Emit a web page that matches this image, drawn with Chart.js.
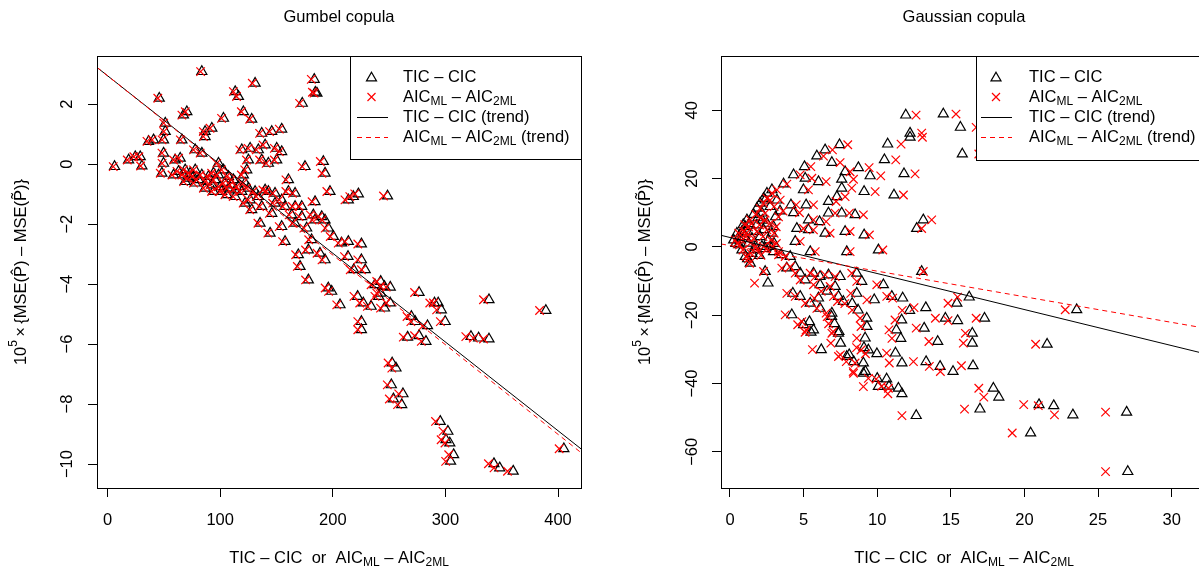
<!DOCTYPE html>
<html>
<head>
<meta charset="utf-8">
<script src="https://cdn.jsdelivr.net/npm/chart.js@4.4.1/dist/chart.umd.min.js"></script>
<style>
  html, body { margin: 0; padding: 0; overflow: hidden; background: #fff; width: 1199px; height: 573px; }
  canvas { position: absolute; top: 0; }
  #gumbel { left: 0; }
  #gauss { left: 600px; }
</style>
</head>
<body>
<canvas id="gumbel" width="600" height="573"></canvas>
<canvas id="gauss" width="640" height="573"></canvas>
<script>
// ---- data ----
const gumbelTic = [
  6.2, 18.7, 24.6, 29.0, 30.5, 36.4, 40.8, 45.9, 49.7, 49.7,
  49.7, 48.2, 51.2, 51.2, 58.6, 60.0, 64.5, 67.4, 70.4, 66.0,
  68.9, 73.3, 77.8, 77.8, 83.7, 86.6, 86.6, 92.6, 83.7, 89.6,
  94.0, 98.5, 98.5, 102.9, 102.9, 107.3, 113.3, 116.2, 120.6, 128.0,
  131.0, 123.6, 125.1, 119.2, 126.6, 133.9, 136.9, 139.9, 136.9, 145.8,
  154.6, 142.8, 150.2, 154.6, 150.2, 139.9, 148.7, 160.6, 166.5, 175.3,
  191.6, 193.1, 197.5, 213.8, 218.2, 172.4, 184.2, 193.1, 207.8, 213.8,
  182.7, 157.6, 166.5, 157.6, 169.4, 178.3, 188.6, 193.1, 170.9, 178.3,
  196.0, 199.0, 206.4, 135.4, 144.3, 128.0, 133.9, 122.1, 63.0, 67.4,
  71.9, 76.3, 80.7, 83.7, 88.1, 92.6, 95.5, 100.0, 104.4, 107.3,
  110.3, 113.3, 116.2, 119.2, 111.8, 101.4, 105.9, 94.0, 86.6, 77.8,
  68.9, 113.3, 122.1, 120.6, 125.1, 131.0, 126.6, 136.9, 142.8, 148.7,
  154.6, 160.6, 166.5, 172.4, 163.5, 154.6, 145.8, 176.8, 184.2, 190.1,
  196.0, 200.5, 181.2, 172.9, 183.5, 184.5, 185.9, 222.7, 248.6, 276.6,
  293.6, 296.4, 338.7, 389.2, 251.0, 225.4, 225.4, 228.8, 222.0, 227.1,
  237.4, 242.5, 251.0, 245.9, 234.0, 213.5, 218.6, 242.5, 245.9, 240.8,
  225.4, 225.4, 269.8, 273.2, 266.4, 276.6, 282.7, 284.1, 299.8, 290.3,
  322.7, 329.5, 338.7, 252.7, 256.1, 252.0, 262.3, 253.8, 261.2, 295.4,
  302.2, 300.5, 303.9, 307.3, 304.6, 343.1, 348.2, 360.2, 405.2
];
const gumbelAic = [
  5.0, 17.5, 23.3, 27.8, 29.3, 35.0, 39.5, 44.6, 48.4, 48.3,
  48.4, 46.8, 49.8, 49.9, 57.2, 58.6, 63.1, 66.0, 69.0, 64.6,
  67.5, 71.8, 76.3, 76.3, 82.2, 85.1, 85.0, 91.0, 82.6, 88.0,
  92.4, 96.9, 96.9, 101.2, 101.2, 105.6, 111.7, 114.5, 118.8, 126.2,
  128.5, 121.8, 123.3, 117.4, 124.8, 132.0, 135.0, 138.0, 135.0, 143.8,
  152.5, 140.8, 148.1, 152.5, 148.1, 137.9, 146.6, 158.4, 164.2, 172.8,
  188.9, 190.4, 194.7, 210.8, 215.1, 170.0, 181.6, 190.4, 204.8, 210.8,
  180.1, 155.4, 164.2, 155.4, 167.0, 175.8, 186.0, 190.4, 168.5, 175.8,
  193.2, 196.2, 203.5, 133.5, 142.3, 126.2, 132.0, 120.4, 61.6, 66.0,
  70.5, 74.8, 79.2, 82.2, 86.6, 91.0, 93.9, 98.3, 102.7, 105.6,
  108.5, 111.5, 114.4, 117.4, 110.0, 99.7, 104.2, 92.4, 85.1, 76.3,
  67.5, 111.5, 120.3, 118.8, 123.3, 129.1, 124.7, 134.9, 140.8, 146.6,
  152.4, 158.3, 164.1, 170.0, 161.2, 152.4, 143.7, 174.3, 181.6, 187.4,
  193.2, 197.7, 178.6, 170.5, 180.9, 181.9, 183.3, 219.5, 245.0, 272.6,
  289.4, 292.2, 333.8, 383.6, 247.4, 222.2, 222.2, 225.5, 218.8, 223.9,
  234.0, 239.0, 247.4, 242.4, 230.7, 210.4, 215.5, 239.0, 242.4, 237.4,
  222.2, 222.2, 265.9, 269.3, 262.6, 272.6, 278.6, 280.0, 295.5, 286.1,
  318.1, 324.8, 333.8, 249.1, 252.4, 248.4, 258.5, 250.2, 257.5, 291.2,
  297.9, 296.2, 299.6, 302.9, 300.2, 338.2, 343.2, 355.1, 401.0
];
const gumbelY = [
  -0.08, 0.14, 0.25, 0.25, -0.06, 0.76, 0.81, 2.2, 0.81, 0.37,
  0.03, -0.3, 1.37, 1.09, -0.36, 0.14, 0.2, 1.64, 1.75, 0.81,
  -0.19, -0.3, -0.19, 0.48, 0.37, 0.92, 1.09, 1.2, 3.09, -0.41,
  -0.3, 0.03, -0.36, 1.53, -0.19, -0.41, 2.42, 2.26, 1.75, 1.5,
  2.7, -0.19, 0.14, 0.48, 0.53, 0.48, 0.14, 0.64, 1.03, 1.09,
  1.17, 0.03, 0.53, 0.42, 0.14, -0.86, -0.97, -0.52, -0.97, -0.08,
  0.09, -0.3, -0.91, -1.19, -1.08, -1.41, -1.25, -1.86, -2.63, -2.58,
  -1.69, -1.41, -1.97, -2.58, -3.02, -2.86, -2.97, -3.19, -3.41, -3.86,
  -4.13, -4.24, -4.69, -1.97, -2.3, -1.52, -1.08, -1.3, -0.24, -0.36,
  -0.47, -0.41, -0.52, -0.36, -0.58, -0.69, -0.52, -0.75, -0.63, -0.8,
  -0.69, -0.86, -0.75, -0.91, -0.52, -0.91, -1.02, -0.91, -0.8, -0.63,
  -0.58, -1.08, -0.63, -0.36, -0.8, -0.91, -1.19, -1.41, -0.91, -1.3,
  -1.19, -0.91, -1.41, -1.75, -1.69, -2.08, -1.64, -2.13, -1.86, -1.75,
  -2.13, -2.41, -2.52, 2.03, 2.83, 2.4, 2.37, -0.99, -1.06, -4.28,
  -4.63, -4.86, -4.52, -4.88, -4.1, -2.66, -3.19, -3.52, -4.41, -4.63,
  -4.02, -4.3, -4.63, -4.8, -4.74, -3.08, -3.52, -3.91, -4.08, -4.41,
  -5.25, -5.52, -5.08, -5.25, -5.77, -5.72, -5.91, -5.39, -5.25, -4.63,
  -5.75, -5.8, -5.83, -6.63, -6.8, -7.36, -7.66, -7.83, -8.02, -8.58,
  -8.91, -9.19, -9.3, -9.69, -9.91, -9.99, -10.13, -10.24, -9.49
];
const gumbelXRange = [-9.4, 420.4];
const gumbelYRange = [-10.8, 3.61];
const gumbelXTicks = [0, 100, 200, 300, 400];
const gumbelYTicks = [-10, -8, -6, -4, -2, 0, 2];
const gumbelTicTrend = [2.95, -0.0296];   // intercept, slope
const gumbelAicTrend = [2.95, -0.0299];

const gaussTic = [
  11.94, 14.49, 12.23, 12.23, 7.44, 10.71, 6.46, 5.9, 6.92, 10.49,
  5.06, 8.72, 11.82, 7.82, 4.32, 9.52, 7.59, 5.11, 6.01, 3.64,
  7.59, 4.99, 9.11, 11.14, 7.26, 6.69, 4.14, 5.17, 4.32, 6.69,
  7.59, 8.5, 13.13, 12.68, 6.08, 5.33, 4.54, 5.33, 6.46, 7.82,
  9.11, 10.08, 7.93, 13.02, 5.45, 4.43, 2.96, 1.83, 2.05, 2.28,
  2.51, 2.85, 2.39, 2.17, 2.73, 3.19, 0.7, 0.93, 1.04, 1.15,
  1.26, 1.49, 1.6, 1.83, 2.05, 2.28, 2.51, 2.62, 2.85, 2.96,
  0.81, 1.04, 1.38, 1.49, 0.59, 1.72, 2.17, 2.73, 2.39, 2.58,
  0.25, 0.47, 0.81, 3.48, 4.09, 4.43, 4.77, 5.67, 6.12, 6.69,
  7.48, 8.61, 3.86, 5.11, 6.12, 7.14, 8.95, 10.42, 4.27, 4.77,
  6.01, 7.37, 8.61, 10.99, 11.73, 5.45, 6.12, 6.92, 4.2, 9.29,
  11.66, 5.4, 5.67, 7.37, 9.18, 7.93, 9.06, 14.27, 9.06, 10.08,
  11.44, 26.94, 27.02, 20.42, 23.29, 20.99, 21.99, 16.98, 18.26, 17.89,
  12.65, 11.68, 10.64, 15.15, 16.51, 13.32, 21.54, 16.46, 16.46, 14.11,
  17.29, 15.46, 14.63, 13.19, 23.55, 15.41, 9.98, 11.24, 11.68, 9.2,
  6.2, 7.51, 15.65, 15.78, 16.25, 0.4, 1.0, 1.3, 1.9, 2.2,
  1.7, 2.0, 1.2, 3.1, 3.4, 0.9, 1.6, 2.4, 3.0, 5.0,
  5.5, 6.9, 7.1, 7.4, 8.1, 8.4, 8.7, 9.3, 9.1, 9.4,
  10.0, 10.8, 11.3, 11.6, 12.2, 13.3, 8.3, 7.7, 6.6, 9.8
];
const gaussAic = [
  12.64, 15.35, 13.02, 13.07, 8.0, 11.62, 6.96, 6.35, 7.48, 11.26,
  5.49, 9.45, 12.57, 8.16, 4.77, 10.24, 8.39, 5.56, 6.53, 3.86,
  8.27, 5.33, 9.86, 11.78, 7.82, 7.21, 4.5, 5.67, 4.72, 7.14,
  8.11, 9.06, 13.7, 13.02, 6.53, 5.67, 4.99, 5.67, 6.8, 8.16,
  9.47, 10.38, 8.16, 13.13, 5.79, 4.77, 3.3, 2.05, 2.28, 2.51,
  2.85, 3.19, 2.73, 2.39, 3.0, 3.41, 0.81, 1.11, 1.26, 1.38,
  1.38, 1.6, 1.83, 2.01, 2.24, 2.51, 2.73, 2.78, 3.0, 3.14,
  0.88, 1.11, 1.33, 1.42, 0.65, 1.78, 2.28, 2.85, 2.28, 1.67,
  0.36, 0.59, 0.93, 3.3, 3.75, 4.09, 4.43, 5.45, 5.79, 6.46,
  7.14, 8.27, 3.52, 4.77, 5.67, 6.8, 8.61, 9.97, 3.86, 4.43,
  5.72, 7.03, 8.2, 10.65, 11.05, 5.11, 5.9, 6.53, 3.75, 8.84,
  11.21, 4.88, 5.17, 6.92, 8.61, 7.37, 8.5, 13.54, 8.39, 9.06,
  10.76, 25.51, 25.51, 19.17, 22.04, 19.95, 20.94, 15.93, 17.24, 16.9,
  11.68, 10.72, 9.93, 14.29, 15.72, 12.46, 20.76, 15.85, 15.99, 13.51,
  16.72, 14.81, 13.95, 12.65, 22.77, 14.81, 9.2, 10.64, 10.82, 8.37,
  5.6, 6.85, 16.72, 16.9, 15.46, 0.5, 1.1, 1.45, 2.05, 2.35,
  1.85, 2.1, 1.25, 3.3, 3.6, 1.0, 1.75, 2.5, 3.15, 4.6,
  5.1, 6.6, 6.7, 7.0, 7.5, 7.9, 8.3, 8.9, 8.6, 8.9,
  9.4, 10.3, 10.8, 11.0, 11.7, 12.5, 7.8, 7.3, 6.2, 9.3
];
const gaussY = [
  38.6, 38.9, 33.3, 32.1, 29.9, 30.1, 28.4, 26.6, 24.7, 25.5,
  23.5, 23.2, 21.4, 22.0, 21.1, 20.8, 19.8, 20.1, 19.1, 18.4,
  17.2, 16.7, 16.2, 15.2, 14.7, 13.3, 12.3, 12.3, 10.0, 9.9,
  9.9, 9.4, 7.9, 5.4, 7.4, 7.9, 5.4, 5.0, 4.0, 4.5,
  3.5, -0.9, -1.4, -7.2, -1.4, 1.6, -1.4, 11.3, 12.8, 14.2,
  15.7, 16.7, 13.7, 9.9, 11.8, 13.7, 2.0, 4.0, 5.9, 7.9,
  1.1, 2.5, 4.5, 6.4, 3.0, 5.0, 6.9, 2.0, 4.0, 5.9,
  -0.9, -2.8, -4.8, -1.9, 0.6, 0.1, 0.1, 0.1, -7.2, -10.6,
  2.0, 4.0, 4.5, -2.3, -2.8, -5.8, -7.7, -7.7, -8.7, -8.2,
  -8.7, -7.7, -6.2, -9.7, -11.1, -11.6, -10.1, -11.1, -13.6, -14.5,
  -15.0, -14.5, -13.6, -14.5, -15.0, -16.5, -18.0, -19.4, -19.9, -20.9,
  -21.4, -21.9, -24.3, -25.3, -26.7, -32.1, -34.0, -35.0, -37.0, -40.9,
  -41.4, -48.4, -65.8, -54.5, -49.2, -46.2, -46.5, -47.5, -44.0, -41.4,
  -49.4, -43.0, -38.7, -36.5, -34.8, -33.6, -28.5, -28.2, -25.3, -27.7,
  -20.9, -21.6, -20.9, -23.8, -18.4, -16.5, -31.3, -31.1, -34.0, -36.5,
  -30.1, -28.2, 35.0, 27.2, -14.7, 1.0, 3.0, 6.8, 8.5, 7.8,
  -0.8, -2.5, -3.5, 8.8, 10.5, 6.5, 9.5, -0.5, 1.0, -22.8,
  -25.0, -20.4, -22.5, -24.8, -31.6, -33.6, -18.5, -23.3, -29.5, -30.2,
  -38.5, -40.8, -24.3, -26.8, -18.6, -17.8, -16.6, -16.0, -13.0, -15.5
];
const gaussXRange = [-0.61, 32.4];
const gaussYRange = [-70.6, 55.9];
const gaussXTicks = [0, 5, 10, 15, 20, 25, 30];
const gaussYTicks = [-60, -40, -20, 0, 20, 40];
const gaussTicTrend = [2.75, -1.055];
const gaussAicTrend = [0.4, -0.75];

// ---- drawing helpers ----
const FONT = '"Liberation Sans", Arimo, Helvetica, Arial, sans-serif';
const BASE = 16.5;
const SMALL = 12;
const TICK = 9;
const RED = '#ff0000';

const AIC_DIFF = [['AIC', ''], ['ML', 'sub'], [' \u2013 AIC', ''], ['2ML', 'sub']];
const X_TITLE = [['TIC \u2013 CIC  or  AIC', ''], ['ML', 'sub'], [' \u2013 AIC', ''], ['2ML', 'sub']];
const Y_TITLE = [['10', ''], ['5', 'sup'], ['\u2009\u00d7\u2009{MSE(P\u0302) \u2013 MSE(P\u0303)}', '']];

function setFont(ctx, kind) {
  ctx.font = (kind ? SMALL : BASE) + 'px ' + FONT;
}

function drawRich(ctx, parts, x, y, align) {
  let w = 0;
  parts.forEach(([t, k]) => { setFont(ctx, k); w += ctx.measureText(t).width; });
  let cx = align === 'left' ? x : x - w / 2;
  ctx.textAlign = 'left';
  ctx.textBaseline = 'middle';
  parts.forEach(([t, k]) => {
    setFont(ctx, k);
    const dy = k === 'sub' ? 5 : (k === 'sup' ? -7 : 0);
    ctx.fillText(t, cx, y + dy);
    cx += ctx.measureText(t).width;
  });
}

function fmt(v) {
  return v < 0 ? '\u2212' + Math.abs(v) : String(v);
}

function drawTriangle(ctx, x, y, r) {
  ctx.beginPath();
  ctx.moveTo(x, y - r);
  ctx.lineTo(x + r * 0.866, y + r / 2);
  ctx.lineTo(x - r * 0.866, y + r / 2);
  ctx.closePath();
  ctx.stroke();
}

function decor(cfg) {
  return {
    id: 'decor',
    afterDraw(chart) {
      const ctx = chart.ctx;
      const a = chart.chartArea;
      const xs = chart.scales.x, ys = chart.scales.y;
      const L = cfg.legend;
      ctx.save();
      ctx.lineWidth = 1;
      ctx.strokeStyle = '#000';
      ctx.fillStyle = '#000';

      // legend
      ctx.fillStyle = '#fff';
      ctx.fillRect(L.left, a.top, a.right - L.left, L.bottom - a.top);
      ctx.strokeRect(L.left + 0.5, Math.round(a.top) + 0.5, a.right - L.left, L.bottom - a.top);
      ctx.fillStyle = '#000';
      const rows = [0, 1, 2, 3].map(i => a.top + 21 + i * 20);
      ctx.lineWidth = 1.2;
      drawTriangle(ctx, L.sym, rows[0] + 1, 5.8);
      ctx.strokeStyle = RED;
      ctx.beginPath();
      ctx.moveTo(L.sym - 4, rows[1] - 4); ctx.lineTo(L.sym + 4, rows[1] + 4);
      ctx.moveTo(L.sym + 4, rows[1] - 4); ctx.lineTo(L.sym - 4, rows[1] + 4);
      ctx.stroke();
      ctx.lineWidth = 1;
      ctx.strokeStyle = '#000';
      ctx.beginPath();
      ctx.moveTo(L.line[0], rows[2] + 0.5); ctx.lineTo(L.line[1], rows[2] + 0.5);
      ctx.stroke();
      ctx.strokeStyle = RED;
      ctx.setLineDash([5, 4]);
      ctx.beginPath();
      ctx.moveTo(L.line[0], rows[3] + 0.5); ctx.lineTo(L.line[1], rows[3] + 0.5);
      ctx.stroke();
      ctx.setLineDash([]);
      ctx.strokeStyle = '#000';
      drawRich(ctx, [['TIC \u2013 CIC', '']], L.text, rows[0], 'left');
      drawRich(ctx, AIC_DIFF, L.text, rows[1], 'left');
      drawRich(ctx, [['TIC \u2013 CIC (trend)', '']], L.text, rows[2], 'left');
      drawRich(ctx, AIC_DIFF.concat([[' (trend)', '']]), L.text, rows[3], 'left');

      // plot box
      ctx.strokeRect(Math.round(a.left) + 0.5, Math.round(a.top) + 0.5,
        Math.round(a.right - a.left), Math.round(a.bottom - a.top));

      // tick labels
      setFont(ctx, '');
      ctx.textAlign = 'center';
      ctx.textBaseline = 'middle';
      xs.ticks.forEach(t => ctx.fillText(fmt(t.value), xs.getPixelForValue(t.value), 520));
      ys.ticks.forEach(t => {
        ctx.save();
        ctx.translate(cfg.yLabelX, ys.getPixelForValue(t.value));
        ctx.rotate(-Math.PI / 2);
        ctx.fillText(fmt(t.value), 0, 0);
        ctx.restore();
      });

      // titles
      const mid = (a.left + a.right) / 2;
      ctx.fillText(cfg.title, mid, 17);
      drawRich(ctx, X_TITLE, mid, 558);
      ctx.save();
      ctx.translate(cfg.yTitleX, (a.top + a.bottom) / 2);
      ctx.rotate(-Math.PI / 2);
      drawRich(ctx, Y_TITLE, 0, 0);
      ctx.restore();
      ctx.restore();
    }
  };
}

function axis(range, ticks, horizontal) {
  return {
    type: 'linear',
    min: range[0],
    max: range[1],
    afterBuildTicks: s => { s.ticks = ticks.map(v => ({value: v})); },
    afterFit: s => { if (horizontal) s.height = TICK; else s.width = TICK; },
    ticks: {display: false},
    grid: {drawOnChartArea: false, drawTicks: true, tickLength: TICK, color: '#000', lineWidth: 1},
    border: {display: true, color: '#000', width: 1}
  };
}

function makePanel(id, cfg) {
  const el = document.getElementById(id);
  const area = cfg.area;
  const trend = coef => cfg.xRange.map(x => ({x: x, y: coef[0] + coef[1] * x}));
  new Chart(el, {
    type: 'scatter',
    data: {
      datasets: [
        {
          label: 'TIC - CIC',
          data: cfg.tic.map((x, i) => ({x: x, y: cfg.y[i]})),
          pointStyle: 'triangle', pointRadius: 5.8,
          borderColor: '#000', backgroundColor: 'rgba(0,0,0,0)', borderWidth: 1.2,
          order: 3
        },
        {
          label: 'AIC',
          data: cfg.aic.map((x, i) => ({x: x, y: cfg.y[i]})),
          pointStyle: 'crossRot', pointRadius: 6,
          borderColor: RED, backgroundColor: RED, borderWidth: 1.2,
          order: 2
        },
        {
          label: 'TIC trend', data: trend(cfg.ticTrend), showLine: true,
          pointRadius: 0, borderColor: '#000', borderWidth: 1, order: 1
        },
        {
          label: 'AIC trend', data: trend(cfg.aicTrend), showLine: true,
          pointRadius: 0, borderColor: RED, borderWidth: 1, borderDash: [5, 4], order: 0
        }
      ]
    },
    options: {
      responsive: false,
      animation: false,
      events: [],
      layout: {
        padding: {
          left: area.left - TICK,
          right: el.width - area.right,
          top: area.top,
          bottom: el.height - area.bottom - TICK
        }
      },
      plugins: {legend: {display: false}, tooltip: {enabled: false}},
      scales: {
        x: axis(cfg.xRange, cfg.xTicks, true),
        y: axis(cfg.yRange, cfg.yTicks, false)
      }
    },
    plugins: [decor(cfg)]
  });
}

makePanel('gumbel', {
  title: 'Gumbel copula',
  tic: gumbelTic, aic: gumbelAic, y: gumbelY,
  xRange: gumbelXRange, yRange: gumbelYRange,
  xTicks: gumbelXTicks, yTicks: gumbelYTicks,
  ticTrend: gumbelTicTrend, aicTrend: gumbelAicTrend,
  area: {left: 97, right: 581, top: 56, bottom: 488},
  yLabelX: 67, yTitleX: 21,
  legend: {left: 350, bottom: 159, sym: 371.5, line: [357, 388], text: 403}
});

makePanel('gauss', {
  title: 'Gaussian copula',
  tic: gaussTic, aic: gaussAic, y: gaussY,
  xRange: gaussXRange, yRange: gaussYRange,
  xTicks: gaussXTicks, yTicks: gaussYTicks,
  ticTrend: gaussTicTrend, aicTrend: gaussAicTrend,
  area: {left: 121, right: 607, top: 56, bottom: 488},
  yLabelX: 92, yTitleX: 45,
  legend: {left: 376, bottom: 160, sym: 396, line: [381, 412], text: 429}
});
</script>
</body>
</html>
